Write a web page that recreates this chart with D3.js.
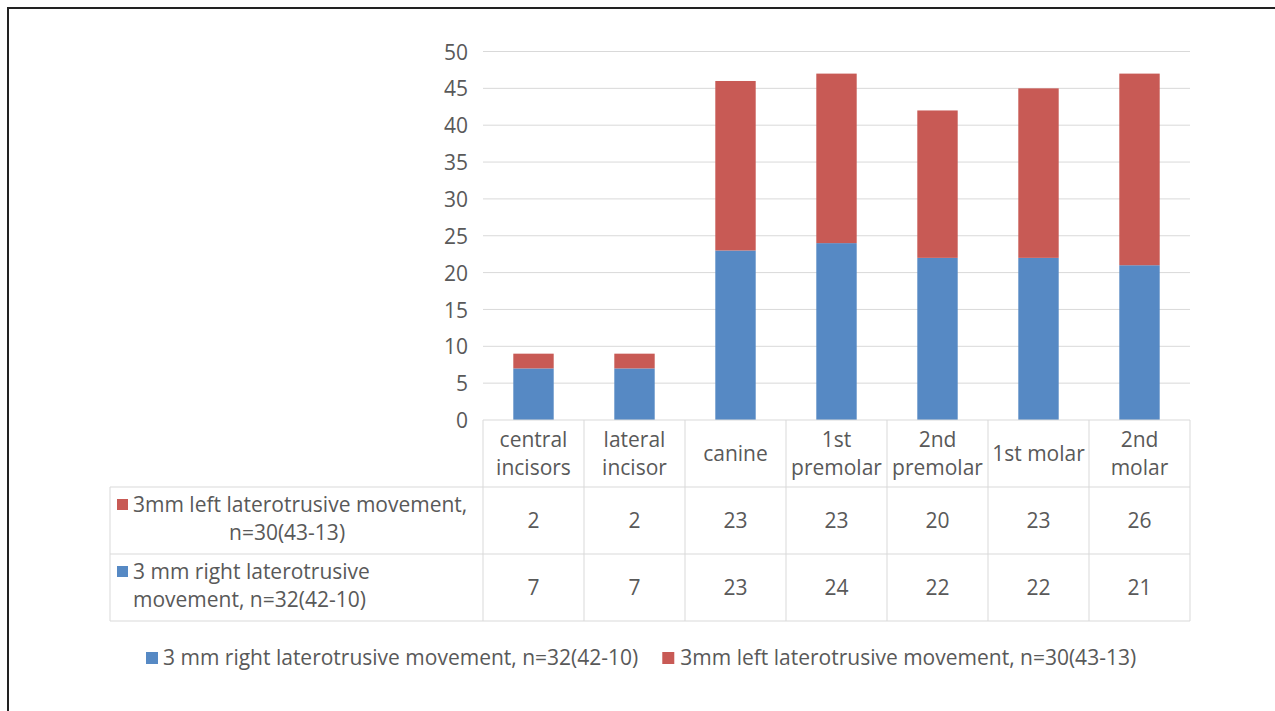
<!DOCTYPE html>
<html><head><meta charset="utf-8">
<script src="https://cdn.jsdelivr.net/npm/d3@7"></script>
<style>
body{margin:0;background:#fff;}
svg{display:block;}
text{font-family:"Open Sans",Lato,sans-serif;fill:#595959;}
</style></head>
<body>
<svg id="c" width="1275" height="711"></svg>
<script>
const categories = ["central incisors","lateral incisor","canine","1st premolar","2nd premolar","1st molar","2nd molar"];
const rightValues = [7,7,23,24,22,22,21];
const leftValues = [2,2,23,23,20,23,26];
const seriesNames = ["3 mm right laterotrusive movement, n=32(42-10)","3mm left laterotrusive movement, n=30(43-13)"];
const seriesColors = ["#5689C4","#C85A55"];
const yTicks = [0,5,10,15,20,25,30,35,40,45,50];

const svg = d3.select("#c");
const grid = "#d9d9d9";
const fs = 21;

// frame
svg.append("rect").attr("x",8).attr("y",8).attr("width",1300).attr("height",800)
  .attr("fill","none").attr("stroke","#222").attr("stroke-width",2);

const x = d3.scaleBand().domain(categories).range([483,1190]).paddingInner(0.6).paddingOuter(0.3);
const y = d3.scaleLinear().domain([0,50]).range([420,51.5]);

// gridlines
svg.append("g").selectAll("line").data(yTicks.filter(d=>d>0)).join("line")
  .attr("x1",483).attr("x2",1190).attr("y1",d=>y(d)).attr("y2",d=>y(d))
  .attr("stroke",grid).attr("stroke-width",1);

// y axis labels
const yAxis = d3.axisLeft(y).tickValues(yTicks).tickSize(0).tickPadding(0);
const ga = svg.append("g").attr("transform","translate(468,0)").call(yAxis);
ga.select(".domain").remove();
ga.selectAll("text").attr("font-size",fs).attr("fill","#595959").attr("dy","0.36em")
  .style("font-family","'Open Sans',Lato,sans-serif");

// stacked bars
const rows = categories.map((c,i)=>({cat:c,right:rightValues[i],left:leftValues[i]}));
const stack = d3.stack().keys(["right","left"])(rows);
svg.append("g").selectAll("g").data(stack).join("g").attr("fill",(d,i)=>seriesColors[i])
  .selectAll("rect").data(d=>d).join("rect")
  .attr("x",d=>x(d.data.cat)).attr("width",x.bandwidth())
  .attr("y",d=>y(d[1])).attr("height",d=>y(d[0])-y(d[1]));

// table
const step = x.step();
const left0 = 483, right0 = 1190;
const rowY = [420,487,554,621];
const tg = svg.append("g");
tg.append("line").attr("x1",left0).attr("x2",right0).attr("y1",420).attr("y2",420).attr("stroke",grid);
[487,554,621].forEach(v=>tg.append("line").attr("x1",110).attr("x2",right0).attr("y1",v).attr("y2",v).attr("stroke",grid));
for(let i=0;i<=categories.length;i++){
  const xx = left0 + i*step;
  tg.append("line").attr("x1",xx).attr("x2",xx).attr("y1",420).attr("y2",621).attr("stroke",grid);
}
tg.append("line").attr("x1",110).attr("x2",110).attr("y1",487).attr("y2",621).attr("stroke",grid);

// header labels with wrapping
const probe = tg.append("text").attr("font-size",fs).text("1st molar");
const maxW = probe.node().getComputedTextLength()+1;
probe.remove();
categories.forEach((c,i)=>{
  const cx = x(c)+x.bandwidth()/2;
  const t = tg.append("text").attr("text-anchor","middle").attr("font-size",fs).attr("x",cx).text(c);
  let lines=[c];
  if(t.node().getComputedTextLength()>maxW){
    const w=c.split(" "); lines=[w[0], w.slice(1).join(" ")];
  }
  t.text(null);
  const y0 = lines.length===1 ? 461 : 447;
  lines.forEach((l,k)=>t.append("tspan").attr("x",cx).attr("y",y0+k*28).text(l));
});
// values
const tableSeries = [leftValues, rightValues];
tableSeries.forEach((vals,r)=>{
  vals.forEach((v,i)=>{
    tg.append("text").attr("text-anchor","middle").attr("font-size",fs)
      .attr("x",x(categories[i])+x.bandwidth()/2).attr("y",(rowY[r+1]+rowY[r+2])/2+7).text(v);
  });
});
// row labels
tg.append("rect").attr("x",117).attr("y",499).attr("width",11).attr("height",11).attr("fill",seriesColors[1]);
tg.append("text").attr("font-size",fs).attr("x",133).attr("y",512).text("3mm left laterotrusive movement,");
tg.append("text").attr("font-size",fs).attr("x",229).attr("y",540).text("n=30(43-13)");
tg.append("rect").attr("x",117).attr("y",566).attr("width",11).attr("height",11).attr("fill",seriesColors[0]);
tg.append("text").attr("font-size",fs).attr("x",133).attr("y",579).text("3 mm right laterotrusive");
tg.append("text").attr("font-size",fs).attr("x",133).attr("y",607).text("movement, n=32(42-10)");

// legend
const lg = svg.append("g");
const lt1 = lg.append("text").attr("font-size",fs).attr("x",163).attr("y",665).text(seriesNames[0]);
lg.append("rect").attr("x",146).attr("y",652).attr("width",12).attr("height",12).attr("fill",seriesColors[0]);
const w1 = lt1.node().getComputedTextLength();
const x2 = 163 + w1 + 42;
lg.append("rect").attr("x",x2-18).attr("y",652).attr("width",12).attr("height",12).attr("fill",seriesColors[1]);
lg.append("text").attr("font-size",fs).attr("x",x2).attr("y",665).text(seriesNames[1]);
</script>
</body></html>
